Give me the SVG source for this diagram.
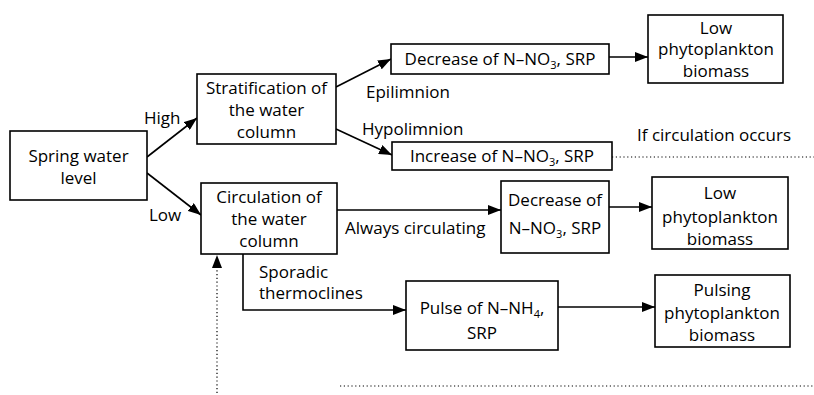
<svg xmlns="http://www.w3.org/2000/svg" width="814" height="395" viewBox="0 0 814 395">
<style>
rect{fill:#fff;stroke:#000;stroke-width:1.6}
text{font-family:"Open Sans","Noto Sans","Liberation Sans",sans-serif;font-size:17px;fill:#000}
.c{text-anchor:middle}
.ln{fill:none;stroke:#000;stroke-width:1.6}
.dot{fill:none;stroke:#000;stroke-width:1.2;stroke-dasharray:1.2 2.6}
.sub{font-size:11px}
</style>
<defs>
<marker id="ah" markerUnits="userSpaceOnUse" markerWidth="14" markerHeight="10" refX="13" refY="5" orient="auto">
<path d="M0,0 L13,5 L0,10 z" fill="#000"/>
</marker>
</defs>
<g id="connectors">
<line class="ln" x1="147" y1="157" x2="197" y2="118" marker-end="url(#ah)"/>
<line class="ln" x1="147" y1="173" x2="201" y2="215" marker-end="url(#ah)"/>
<line class="ln" x1="336" y1="87" x2="391" y2="59" marker-end="url(#ah)"/>
<line class="ln" x1="336" y1="129" x2="392" y2="155" marker-end="url(#ah)"/>
<line class="ln" x1="609" y1="57" x2="648" y2="57" marker-end="url(#ah)"/>
<line class="ln" x1="337" y1="210" x2="501" y2="210" marker-end="url(#ah)"/>
<line class="ln" x1="609" y1="207" x2="652" y2="207" marker-end="url(#ah)"/>
<path class="ln" d="M243,254 V310 H406" marker-end="url(#ah)"/>
<line class="ln" x1="558" y1="307" x2="655" y2="307" marker-end="url(#ah)"/>
<line class="dot" x1="612" y1="157" x2="814" y2="157"/>
<line class="dot" x1="217" y1="393" x2="217" y2="268"/>
<path d="M217,255 L212,268 L222,268 z" fill="#000"/>
<line class="dot" x1="340" y1="386" x2="814" y2="386"/>
<text x="144" y="124">High</text>
<text x="149" y="221">Low</text>
<text x="366" y="98">Epilimnion</text>
<text x="362" y="135">Hypolimnion</text>
<text x="637" y="141">If circulation occurs</text>
<text x="345" y="234">Always circulating</text>
<text x="259" y="278">Sporadic</text>
<text x="259" y="299">thermoclines</text>
</g>
<g id="spring">
<rect x="10" y="131" width="137" height="69"/>
<text class="c" x="78.5" y="162">Spring water</text>
<text class="c" x="78.5" y="184">level</text>
</g>
<g id="stratification">
<rect x="197" y="74" width="139" height="70"/>
<text class="c" x="266.5" y="94">Stratification of</text>
<text class="c" x="266.5" y="116">the water</text>
<text class="c" x="266.5" y="138">column</text>
</g>
<g id="circulation">
<rect x="201" y="183" width="136" height="71"/>
<text class="c" x="269" y="203">Circulation of</text>
<text class="c" x="269" y="225">the water</text>
<text class="c" x="269" y="247">column</text>
</g>
<g id="decrease-top">
<rect x="391" y="44" width="218" height="30"/>
<text class="c" x="500" y="65">Decrease of N–NO<tspan class="sub" dy="4">3</tspan><tspan dy="-4">, SRP</tspan></text>
</g>
<g id="increase">
<rect x="392" y="142" width="220" height="28"/>
<text class="c" x="502" y="162">Increase of N–NO<tspan class="sub" dy="4">3</tspan><tspan dy="-4">, SRP</tspan></text>
</g>
<g id="low-top">
<rect x="648" y="15" width="135" height="68"/>
<text class="c" x="716" y="34">Low</text>
<text class="c" x="716" y="55">phytoplankton</text>
<text class="c" x="716" y="77">biomass</text>
</g>
<g id="decrease-mid">
<rect x="501" y="181" width="108" height="72"/>
<text class="c" x="555" y="206">Decrease of</text>
<text class="c" x="555" y="234">N–NO<tspan class="sub" dy="4">3</tspan><tspan dy="-4">, SRP</tspan></text>
</g>
<g id="low-mid">
<rect x="652" y="177" width="136" height="72"/>
<text class="c" x="720" y="199">Low</text>
<text class="c" x="720" y="223">phytoplankton</text>
<text class="c" x="720" y="245">biomass</text>
</g>
<g id="pulse">
<rect x="406" y="281" width="152" height="69"/>
<text class="c" x="482" y="314">Pulse of N–NH<tspan class="sub" dy="4">4</tspan><tspan dy="-4">,</tspan></text>
<text class="c" x="482" y="339">SRP</text>
</g>
<g id="pulsing">
<rect x="655" y="275" width="135" height="72"/>
<text class="c" x="722" y="296">Pulsing</text>
<text class="c" x="722" y="319">phytoplankton</text>
<text class="c" x="722" y="341">biomass</text>
</g>
</svg>
